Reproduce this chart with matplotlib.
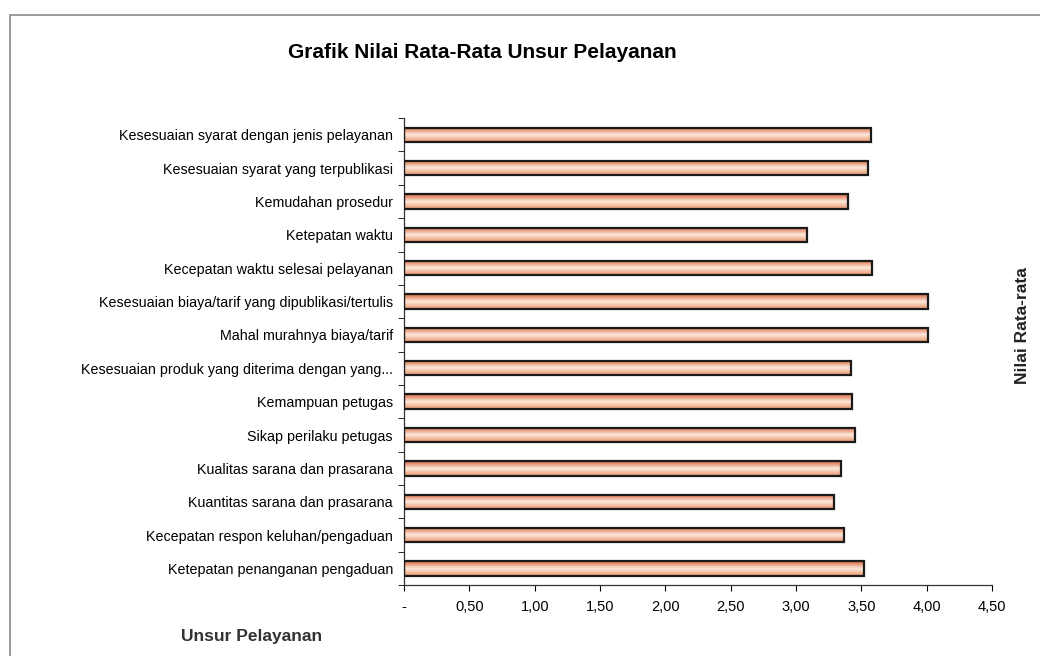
import numpy as np
import matplotlib
matplotlib.use("Agg")
import matplotlib.pyplot as plt
from matplotlib.colors import LinearSegmentedColormap
from matplotlib.patches import Rectangle

unsur = [
    "Kesesuaian syarat dengan jenis pelayanan",
    "Kesesuaian syarat yang terpublikasi",
    "Kemudahan prosedur",
    "Ketepatan waktu",
    "Kecepatan waktu selesai pelayanan",
    "Kesesuaian biaya/tarif yang dipublikasi/tertulis",
    "Mahal murahnya biaya/tarif",
    "Kesesuaian produk yang diterima dengan yang...",
    "Kemampuan petugas",
    "Sikap perilaku petugas",
    "Kualitas sarana dan prasarana",
    "Kuantitas sarana dan prasarana",
    "Kecepatan respon keluhan/pengaduan",
    "Ketepatan penanganan pengaduan",
]
nilai = [3.57, 3.55, 3.40, 3.08, 3.58, 4.01, 4.01, 3.42, 3.43, 3.45, 3.34, 3.29, 3.37, 3.52]
xticks = [0, 0.5, 1.0, 1.5, 2.0, 2.5, 3.0, 3.5, 4.0, 4.5]
xticklabels = ["-", "0,50", "1,00", "1,50", "2,00", "2,50", "3,00", "3,50", "4,00", "4,50"]

plt.rcParams['font.family'] = ['Liberation Sans', 'DejaVu Sans']

fig = plt.figure(figsize=(10.4, 6.56), dpi=100)
ax = fig.add_axes([0.3885, 0.108, 0.5655, 0.712])

# scanned page frame
fig.patches.append(Rectangle((10 / 1040, -0.2), 1.2, 1 - 15 / 656 + 0.2,
                             transform=fig.transFigure, fill=False,
                             edgecolor="#8a8a8a", lw=1.2))

cmap = LinearSegmentedColormap.from_list(
    "bar", [(0.0, "#d9653a"), (0.5, "#fde9dc"), (1.0, "#e8946a")])
grad = np.linspace(0, 1, 64).reshape(-1, 1)
h = 0.43
for i, v in enumerate(nilai):
    ax.imshow(grad, extent=[0, v, i + h / 2, i - h / 2], origin="upper",
              aspect="auto", cmap=cmap, zorder=2, interpolation="bilinear")
    ax.barh(i, v, height=h, fill=False, edgecolor="#1a1a1a", lw=1.6, zorder=3)

ax.set_xlim(0, 4.5)
ax.set_ylim(len(unsur) - 0.5, -0.5)
ax.set_xticks(xticks)
ax.set_xticklabels(xticklabels, fontsize=10.5)
ax.set_yticks(range(len(unsur)))
ax.set_yticklabels(unsur, fontsize=10.3)
ax.set_yticks(np.arange(-0.5, len(unsur), 1), minor=True)
ax.tick_params(axis="y", which="major", length=0, pad=8)
ax.tick_params(axis="y", which="minor", length=4, direction="out")
ax.tick_params(axis="x", length=4, direction="out", pad=7)
for s in ["top", "right"]:
    ax.spines[s].set_visible(False)
for s in ["left", "bottom"]:
    ax.spines[s].set_color("#333333")
    ax.spines[s].set_linewidth(0.9)

fig.text(0.4635, 0.92, "Grafik Nilai Rata-Rata Unsur Pelayanan",
         ha="center", va="center", fontsize=15, fontweight="bold")
fig.text(0.983, 0.503, "Nilai Rata-rata", rotation=90, ha="center", va="center",
         fontsize=12.5, fontweight="bold", color="#222222")
fig.text(0.2415, 0.03, "Unsur Pelayanan", ha="center", va="center",
         fontsize=12.5, fontweight="bold", color="#333333")

fig.savefig("out.png", dpi=100)
